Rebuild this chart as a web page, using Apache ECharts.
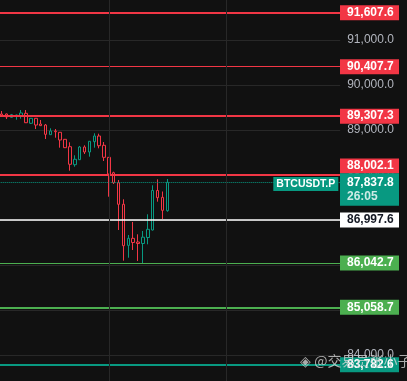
<!DOCTYPE html>
<html><head><meta charset="utf-8">
<script src="https://cdn.jsdelivr.net/npm/echarts@6/dist/echarts.min.js"></script>
<style>html,body{margin:0;padding:0;background:#111111;}#c{width:407px;height:381px;}</style>
</head><body><div id="c"></div>
<script>
// ---- data ----
const categories = ['c01','c02','c03','c04','c05','c06','c07','c08','c09','c10','c11','c12','c13','c14','c15','c16','c17','c18','c19','c20','c21','c22','c23','c24','c25','c26','c27','c28','c29','c30','c31','c32','c33','c34','c35'];
const openV  = [89356,89356,89282,89311,89318,89371,89149,89260,89133,89111,88896,88978,88949,88793,88629,88229,88340,88622,88511,88740,88867,88660,88393,88051,87829,87349,86436,86593,86511,86478,86611,86778,87656,87504,87207];
const closeV = [89327,89289,89340,89333,89378,89162,89260,89111,89096,88904,88978,88962,88778,88607,88238,88349,88622,88511,88749,88867,88651,88393,88022,87829,87349,86429,86593,86500,86478,86618,86793,87656,87496,87215,87837.8];
const lowV   = [89311,89244,89275,89229,89251,89155,89133,89022,89090,88800,88890,88829,88607,88600,88096,88184,88333,88467,88407,88607,88593,88311,87518,87800,86778,86096,86162,86333,86089,86038,86460,86767,87407,87022,87184];
const highV  = [89422,89367,89356,89340,89444,89444,89265,89265,89222,89133,89038,89022,88955,88800,88727,88438,88644,88660,88755,88927,88918,88733,88400,88073,87889,87460,86667,86956,86682,86756,87127,87771,87904,87633,87911];
const levelValues = [91607.6, 90407.7, 89307.3, 88002.1, 86997.6, 86042.7, 85058.7, 83782.6];
const lastPrice = 87837.8;
const countdown = '26:05';
const symbolName = 'BTCUSDT.P';
const watermark = '\u25C8 @交易员张小子';

// ---- styles ----
const RED = '#f23645', GREEN = '#4caf50', TEAL = '#089981';
const levelStyles = [
  {c: RED, w: 2, fill: RED, txt: '#fff', dy: 0},
  {c: RED, w: 1, fill: RED, txt: '#fff', dy: 0},
  {c: RED, w: 2, fill: RED, txt: '#fff', dy: 0},
  {c: RED, w: 2, fill: RED, txt: '#fff', dy: -9},
  {c: '#ffffff', w: 1.5, fill: '#ffffff', txt: '#131722', dy: 0},
  {c: GREEN, w: 1, fill: GREEN, txt: '#fff', dy: 0},
  {c: GREEN, w: 2, fill: GREEN, txt: '#fff', dy: 0},
  {c: TEAL, w: 2, fill: TEAL, txt: '#fff', dy: 0}
];

const nSlots = 70;
const axisCats = categories.concat(Array.from({length: nSlots - categories.length}, (_, i) => 'e' + i));
const kData = categories.map((_, i) => [openV[i], closeV[i], lowV[i], highV[i]]);
const fmt = v => v.toLocaleString('en-US', {minimumFractionDigits: 1, maximumFractionDigits: 1});

const chart = echarts.init(document.getElementById('c'), null, {renderer: 'canvas'});
const levelLines = levelValues.map((v, i) => ({
  yAxis: v, lineStyle: {color: levelStyles[i].c, width: levelStyles[i].w, type: 'solid'}
}));
levelLines.push({yAxis: lastPrice, lineStyle: {color: TEAL, width: 1, type: 'dotted'}});

chart.setOption({
  backgroundColor: '#111111',
  animation: false,
  grid: {left: -0.7, top: -5, width: 340.9, height: 405, outerBoundsMode: 'none', containLabel: false},
  xAxis: {
    type: 'category', data: axisCats, boundaryGap: true,
    axisLine: {show: false}, axisTick: {show: false}, axisLabel: {show: false}, splitLine: {show: false}
  },
  yAxis: {
    type: 'value', position: 'right', min: 83000, max: 92000, interval: 1000,
    axisLine: {show: false}, axisTick: {show: false},
    axisLabel: {color: '#b2b5be', fontSize: 12, margin: 7, fontFamily: 'Liberation Sans', formatter: v => fmt(v)},
    splitLine: {lineStyle: {color: '#282828', width: 1}}
  },
  series: [
    {
      type: 'line', data: [], z: 1, silent: true,
      markLine: {
        symbol: 'none', silent: true, label: {show: false},
        lineStyle: {color: '#282828', width: 1, type: 'solid'},
        data: [{xAxis: 22}, {xAxis: 46}]
      }
    },
    {
      type: 'candlestick', data: kData, barWidth: 3, z: 3,
      itemStyle: {color: '#111111', color0: '#111111', borderColor: TEAL, borderColor0: RED, borderWidth: 1},
      markLine: {
        symbol: 'none', silent: true, label: {show: false}, z: 4,
        data: levelLines
      }
    }
  ]
});

function yOf(v) { return chart.convertToPixel({yAxisIndex: 0}, v); }
const boxX = 340, boxW = 59, boxH = 15, txtX = 347;
const g = [];
levelValues.forEach((v, i) => {
  const s = levelStyles[i];
  const cy = yOf(v) + s.dy;
  g.push({type: 'rect', z: 50, shape: {x: boxX, y: cy - boxH / 2, width: boxW, height: boxH}, style: {fill: s.fill}});
  g.push({type: 'text', z: 51, x: txtX, y: cy, style: {text: fmt(v), fill: s.txt, font: 'bold 12px "Liberation Sans"', align: 'left', verticalAlign: 'middle'}});
});
const py = yOf(lastPrice);
g.push({type: 'rect', z: 52, shape: {x: boxX, y: py - 9, width: boxW, height: 32.5}, style: {fill: TEAL}});
g.push({type: 'text', z: 53, x: txtX, y: py, style: {text: fmt(lastPrice), fill: '#ffffff', font: 'bold 12px "Liberation Sans"', align: 'left', verticalAlign: 'middle'}});
g.push({type: 'text', z: 53, x: txtX, y: py + 14.5, style: {text: countdown, fill: 'rgba(255,255,255,0.8)', font: 'bold 12px "Liberation Sans"', align: 'left', verticalAlign: 'middle'}});
g.push({type: 'rect', z: 52, shape: {x: 273.3, y: py - 5.2, width: 65, height: 14}, style: {fill: TEAL}});
g.push({type: 'text', z: 53, x: 305.8, y: py + 1.8, style: {text: symbolName, fill: '#ffffff', font: 'bold 10.5px "Liberation Sans"', align: 'center', verticalAlign: 'middle'}});
g.push({type: 'text', z: 60, x: 300, y: 361, style: {text: watermark, fill: 'rgba(215,215,215,0.78)', font: '14px "Noto Sans CJK SC"', align: 'left', verticalAlign: 'middle'}});
chart.setOption({graphic: g});
</script>
</body></html>
